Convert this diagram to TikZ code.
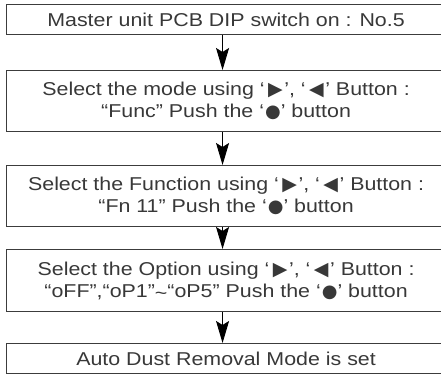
\documentclass[tikz,border=0pt]{standalone}
\usepackage{fontspec}
\setmainfont{Liberation Sans}[FakeStretch=1.15]
\newfontfamily\symfont{DejaVu Sans}
\usetikzlibrary{arrows.meta}
\definecolor{txt}{HTML}{383838}
\definecolor{frame}{HTML}{3C3C3C}
\newcommand{\rtri}{\hspace{3.5pt}{\symfont\fontsize{19}{19}\selectfont ▶}\hspace{1.5pt}}
\newcommand{\ltri}{\hspace{3.5pt}{\symfont\fontsize{19}{19}\selectfont ◀}\hspace{1.5pt}}
\newcommand{\dotsym}{\hspace{1pt}{\symfont\fontsize{18}{18}\selectfont ●}}
\begin{document}
\begin{tikzpicture}[x=1pt,y=-1pt,
  stepbox/.style={draw=frame,line width=1.1pt,rectangle,minimum width=439pt,
    inner sep=0pt,align=center,text=txt,anchor=north west,
    font=\fontsize{18.6}{22}\selectfont},
  arr/.style={draw=black,line width=0.9pt,-{Stealth[length=22pt,width=13pt,inset=4pt]}}]
\useasboundingbox (0,0) rectangle (441,376);
\clip (0,0) rectangle (441,376);
\node[stepbox,minimum height=30pt] (b1) at (6,4) {Master unit PCB DIP switch on : No.5};
\node[stepbox,minimum height=61pt] (b2) at (6,70) {Select the mode using ‘\rtri’, ‘\ltri’ Button :\\“Func” Push the ‘\dotsym’ button};
\node[stepbox,minimum height=61pt] (b3) at (6,165) {Select the Function using ‘\rtri’, ‘\ltri’ Button :\\“Fn 11” Push the ‘\dotsym’ button};
\node[stepbox,minimum height=62pt] (b4) at (6,249) {Select the Option using ‘\rtri’, ‘\ltri’ Button :\\“oFF”,“oP1”\raisebox{-2pt}{\textasciitilde}“oP5” Push the ‘\dotsym’ button};
\node[stepbox,minimum height=30pt] (b5) at (6,343) {Auto Dust Removal Mode is set};
\draw[arr] ([xshift=-3.5pt]b1.south) -- ([xshift=-3.5pt]b2.north);
\draw[arr] ([xshift=-3.5pt]b2.south) -- ([xshift=-3.5pt]b3.north);
\draw[arr] ([xshift=-3.5pt]b3.south) -- ([xshift=-3.5pt]b4.north);
\draw[arr] ([xshift=-3.5pt]b4.south) -- ([xshift=-3.5pt]b5.north);
\end{tikzpicture}
\end{document}
